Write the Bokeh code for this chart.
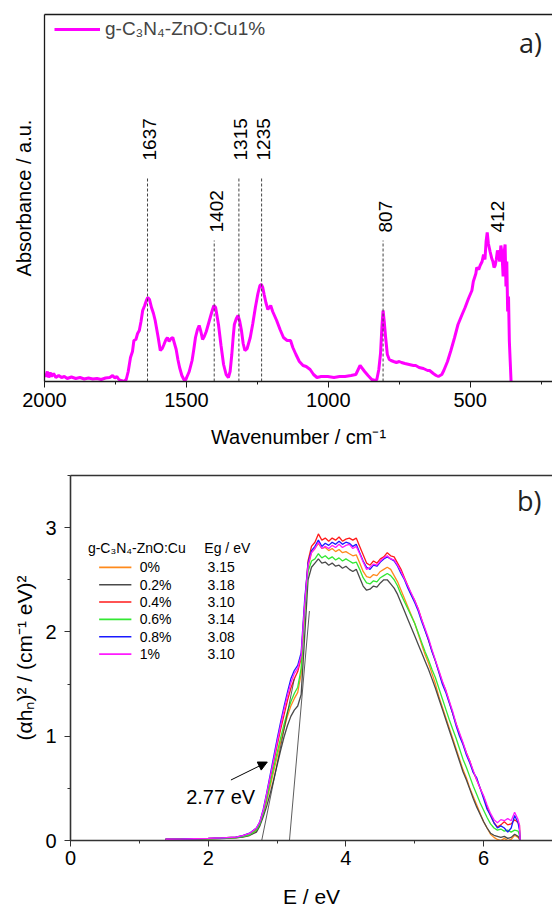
import numpy as np
from bokeh.plotting import figure
from bokeh.models import (Range1d, SingleIntervalTicker, FixedTicker, LinearAxis,
                          Legend, LegendItem, Arrow, NormalHead)
from bokeh.core.properties import value
from bokeh.embed import file_html
from bokeh.resources import INLINE

FONT = "Liberation Sans"

# ---------------- panel a) FTIR data ----------------
ftir_wn = [2000, 1995, 1990, 1985, 1980, 1975, 1968, 1960, 1950, 1940, 1930, 1920, 1905, 1890,
           1875, 1860, 1845, 1830, 1815, 1800, 1785, 1770, 1760, 1752, 1745, 1738, 1730, 1720,
           1712, 1705, 1697, 1690, 1685, 1678, 1672, 1666, 1660, 1654, 1647, 1641, 1636, 1630,
           1623, 1616, 1610, 1600, 1592, 1585, 1579, 1572, 1567, 1561, 1554, 1548, 1542, 1536,
           1530, 1524, 1516, 1509, 1504, 1499, 1490, 1480, 1474, 1468, 1461, 1455, 1449, 1443,
           1437, 1430, 1424, 1416, 1408, 1403, 1397, 1387, 1378, 1369, 1360, 1352, 1346, 1340,
           1335, 1331, 1324, 1318, 1312, 1306, 1300, 1294, 1286, 1275, 1266, 1257, 1248, 1241,
           1236, 1231, 1226, 1220, 1213, 1208, 1203, 1196, 1182, 1170, 1158, 1145, 1133, 1125,
           1114, 1102, 1089, 1078, 1064, 1052, 1040, 1025, 1002, 980, 960, 941, 920, 903, 893,
           888, 880, 872, 860, 847, 835, 829, 822, 816, 811, 807, 803, 798, 792, 785, 779, 770,
           760, 750, 742, 730, 715, 700, 692, 680, 665, 650, 643, 630, 620, 612, 600, 593, 580,
           568, 555, 543, 530, 518, 506, 494, 489, 480, 477, 470, 465, 458, 453, 448, 444, 440,
           436, 430, 424, 420, 416, 412, 408, 404, 400, 396, 392, 388, 384, 380, 377, 374, 371,
           368, 365, 362, 359, 356]
ftir_abs = [0.08, 0.05, 0.10, 0.04, 0.09, 0.05, 0.08, 0.04, 0.06, 0.04, 0.05, 0.03, 0.045, 0.03,
            0.04, 0.025, 0.035, 0.025, 0.03, 0.02, 0.035, 0.04, 0.06, 0.035, 0.05, 0.02, 0.01, 0.0,
            0.02, 0.10, 0.24, 0.30, 0.41, 0.42, 0.48, 0.51, 0.60, 0.71, 0.76, 0.81, 0.84, 0.82,
            0.74, 0.68, 0.61, 0.45, 0.31, 0.33, 0.37, 0.42, 0.44, 0.40, 0.43, 0.44, 0.38, 0.32,
            0.22, 0.14, 0.06, 0.02, 0.01, 0.04, 0.10, 0.21, 0.32, 0.44, 0.52, 0.56, 0.50, 0.42,
            0.45, 0.50, 0.56, 0.64, 0.72, 0.76, 0.74, 0.57, 0.36, 0.17, 0.07, 0.04, 0.10, 0.27,
            0.45, 0.57, 0.63, 0.66, 0.60, 0.51, 0.38, 0.31, 0.33, 0.44, 0.58, 0.74, 0.88, 0.96,
            0.97, 0.94, 0.87, 0.79, 0.72, 0.74, 0.76, 0.70, 0.61, 0.52, 0.44, 0.41, 0.41, 0.34,
            0.27, 0.20, 0.16, 0.15, 0.12, 0.07, 0.04, 0.05, 0.05, 0.04, 0.05, 0.05, 0.06, 0.07, 0.13,
            0.16, 0.13, 0.10, 0.06, 0.02, 0.01, 0.02, 0.12, 0.28, 0.55, 0.71, 0.60, 0.44, 0.27, 0.22, 0.21, 0.20,
            0.19, 0.20, 0.19, 0.18, 0.17, 0.16, 0.16, 0.14, 0.13, 0.11, 0.11, 0.08, 0.06, 0.05, 0.07, 0.11, 0.20,
            0.31, 0.44, 0.57, 0.66, 0.74, 0.83, 0.91, 1.00, 1.08, 1.14, 1.12, 1.16, 1.20, 1.27, 1.22, 1.40, 1.49,
            1.38, 1.30, 1.23, 1.20, 1.14, 1.16, 1.22, 1.31, 1.27, 1.20, 1.36, 1.28, 1.05, 1.30, 1.37, 0.95, 1.20,
            0.70, 0.85, 0.40, 0.20, 0.0]

peak_wn = [1637, 1402, 1315, 1235, 807, 412]
peak_text = ["1637", "1402", "1315", "1235", "807", "412"]
peak_level = ["high", "low", "high", "high", "low", "low"]
peak_has_line = [True, True, True, True, True, False]

# ---------------- panel b) Tauc data ----------------
energy = [1.38, 1.6, 1.8, 2.0, 2.2, 2.4, 2.5, 2.6,
          2.7, 2.75, 2.8, 2.85, 2.9, 2.95, 3.0, 3.05, 3.1, 3.15, 3.2, 3.25, 3.3, 3.35, 3.4, 3.45,
          3.5, 3.55, 3.6, 3.65, 3.7, 3.75, 3.8, 3.85, 3.9, 3.95, 4.0, 4.05, 4.1, 4.15, 4.2, 4.25,
          4.3, 4.35, 4.4, 4.45, 4.5, 4.55, 4.6, 4.65, 4.7, 4.75, 4.8, 4.85, 4.9, 4.95, 5.0, 5.05,
          5.1, 5.15, 5.2, 5.25, 5.3, 5.35, 5.4, 5.45, 5.5, 5.55, 5.6, 5.65, 5.7, 5.75, 5.8, 5.85,
          5.9, 5.95, 6.0, 6.05, 6.1, 6.15, 6.2, 6.25, 6.3, 6.35, 6.4, 6.45, 6.5, 6.52, 6.53]

cu_0 = [0.01, 0.012, 0.014, 0.016, 0.02, 0.026, 0.035, 0.05,
        0.09, 0.15, 0.25, 0.38, 0.52, 0.66, 0.8, 0.94, 1.07, 1.19,
        1.29, 1.36, 1.42, 1.6, 2.2, 2.62, 2.76, 2.8, 2.85, 2.8,
        2.81, 2.78, 2.8, 2.77, 2.79, 2.76, 2.77, 2.75, 2.73, 2.74,
        2.66, 2.58, 2.53, 2.52, 2.55, 2.54, 2.58, 2.6, 2.62, 2.6,
        2.54, 2.48, 2.4, 2.32, 2.24, 2.16, 2.08, 1.98, 1.88, 1.78,
        1.7, 1.6, 1.5, 1.38, 1.28, 1.18, 1.08, 0.98, 0.88, 0.78,
        0.68, 0.6, 0.5, 0.42, 0.34, 0.26, 0.18, 0.12, 0.06, 0.03,
        0.01, 0.0, 0.02, 0.0, 0.01, 0.05, 0.03, 0.01, 0.0]
cu_02 = [0.01, 0.011, 0.013, 0.015, 0.019, 0.025, 0.033, 0.048,
         0.08, 0.14, 0.23, 0.33, 0.45, 0.58, 0.72, 0.86, 0.99, 1.1,
         1.19, 1.25, 1.29, 1.4, 1.95, 2.5, 2.62, 2.66, 2.7, 2.66,
         2.67, 2.64, 2.66, 2.63, 2.64, 2.61, 2.63, 2.6, 2.58, 2.6,
         2.52, 2.44, 2.4, 2.41, 2.44, 2.43, 2.47, 2.5, 2.5, 2.46,
         2.42, 2.36, 2.28, 2.2, 2.12, 2.04, 1.96, 1.88, 1.8, 1.72,
         1.64, 1.55, 1.46, 1.36, 1.26, 1.16, 1.06, 0.96, 0.86, 0.76,
         0.66, 0.58, 0.49, 0.4, 0.32, 0.25, 0.18, 0.12, 0.07, 0.05,
         0.04, 0.03, 0.04, 0.02, 0.03, 0.06, 0.04, 0.02, 0.0]
cu_04 = [0.012, 0.014, 0.017, 0.02, 0.024, 0.032, 0.045, 0.065,
         0.11, 0.17, 0.28, 0.43, 0.59, 0.75, 0.91, 1.06, 1.2, 1.34,
         1.46, 1.55, 1.62, 1.75, 2.25, 2.68, 2.82, 2.86, 2.94, 2.88,
         2.9, 2.87, 2.9, 2.88, 2.91, 2.87, 2.89, 2.9, 2.88, 2.9,
         2.82, 2.74, 2.66, 2.64, 2.68, 2.66, 2.7, 2.72, 2.76, 2.73,
         2.72, 2.66, 2.6, 2.52, 2.44, 2.36, 2.3, 2.22, 2.12, 2.02,
         1.92, 1.82, 1.72, 1.62, 1.52, 1.44, 1.33, 1.22, 1.12, 1.02,
         0.93, 0.84, 0.76, 0.66, 0.58, 0.5, 0.42, 0.32, 0.24, 0.17,
         0.13, 0.15, 0.18, 0.15, 0.16, 0.2, 0.17, 0.15, 0.0]
cu_06 = [0.01, 0.012, 0.015, 0.017, 0.021, 0.028, 0.038, 0.055,
         0.1, 0.16, 0.26, 0.4, 0.55, 0.7, 0.84, 0.98, 1.11, 1.23,
         1.33, 1.41, 1.47, 1.65, 2.2, 2.58, 2.68, 2.7, 2.75, 2.71,
         2.73, 2.7, 2.72, 2.69, 2.71, 2.68, 2.7, 2.68, 2.66, 2.67,
         2.6, 2.52, 2.47, 2.46, 2.49, 2.48, 2.52, 2.54, 2.56, 2.54,
         2.5, 2.44, 2.36, 2.29, 2.22, 2.15, 2.08, 1.99, 1.9, 1.81,
         1.73, 1.64, 1.56, 1.46, 1.36, 1.26, 1.16, 1.07, 0.98, 0.88,
         0.78, 0.7, 0.61, 0.52, 0.44, 0.36, 0.29, 0.22, 0.16, 0.12,
         0.1, 0.11, 0.09, 0.1, 0.08, 0.1, 0.09, 0.05, 0.0]
cu_08 = [0.012, 0.014, 0.017, 0.02, 0.025, 0.033, 0.046, 0.07,
         0.12, 0.18, 0.3, 0.46, 0.63, 0.8, 0.97, 1.13, 1.28, 1.42,
         1.55, 1.63, 1.68, 1.8, 2.3, 2.66, 2.78, 2.82, 2.88, 2.82,
         2.85, 2.83, 2.86, 2.84, 2.87, 2.84, 2.86, 2.85, 2.82, 2.84,
         2.76, 2.68, 2.62, 2.6, 2.64, 2.63, 2.67, 2.7, 2.72, 2.7,
         2.68, 2.63, 2.56, 2.5, 2.42, 2.35, 2.28, 2.2, 2.1, 2.01,
         1.92, 1.81, 1.72, 1.61, 1.5, 1.42, 1.32, 1.22, 1.1, 1.0,
         0.92, 0.82, 0.74, 0.65, 0.6, 0.5, 0.4, 0.3, 0.24, 0.17,
         0.12, 0.14, 0.12, 0.08, 0.12, 0.24, 0.17, 0.1, 0.0]
cu_1 = [0.012, 0.014, 0.017, 0.02, 0.025, 0.033, 0.046, 0.068,
        0.12, 0.18, 0.29, 0.45, 0.61, 0.77, 0.94, 1.1, 1.25, 1.39,
        1.51, 1.6, 1.65, 1.77, 2.26, 2.64, 2.76, 2.8, 2.86, 2.8,
        2.82, 2.8, 2.83, 2.81, 2.84, 2.81, 2.83, 2.84, 2.8, 2.82,
        2.75, 2.67, 2.6, 2.62, 2.65, 2.64, 2.68, 2.71, 2.73, 2.7,
        2.69, 2.64, 2.58, 2.51, 2.44, 2.37, 2.3, 2.22, 2.12, 2.03,
        1.94, 1.83, 1.73, 1.63, 1.53, 1.44, 1.34, 1.24, 1.12, 1.03,
        0.94, 0.84, 0.76, 0.67, 0.58, 0.5, 0.43, 0.34, 0.26, 0.2,
        0.17, 0.2, 0.19, 0.21, 0.19, 0.27, 0.2, 0.15, 0.0]

series_labels = ["0%", "0.2%", "0.4%", "0.6%", "0.8%", "1%"]
eg_values = ["3.15", "3.18", "3.10", "3.14", "3.08", "3.10"]
series_values = [cu_0, cu_02, cu_04, cu_06, cu_08, cu_1]
series_colors = ["#FF8A1C", "#4A4A4A", "#FF1A1A", "#33E833", "#1A1AFF", "#FF1AFF"]

tangent_x = [[2.777, 3.25], [3.18, 3.47]]
tangent_y = [[0.0, 1.55], [0.0, 2.20]]

# ---------------- panel a) figure ----------------
AX = "#1a1a1a"
p1 = figure(width=552, height=453, output_backend="svg", toolbar_location=None,
            x_range=Range1d(2000, 210), y_range=Range1d(0, 3.67),
            min_border_left=44, min_border_right=0, min_border_top=14, min_border_bottom=72)
p1.outline_line_color = None
p1.grid.visible = False

p1.xaxis.ticker = SingleIntervalTicker(interval=500, num_minor_ticks=2)
p1.xaxis.axis_label = "Wavenumber / cm\u207b\u00b9"
p1.yaxis.ticker = FixedTicker(ticks=[])
p1.yaxis.axis_label = "Absorbance / a.u."
p1.yaxis.major_tick_out = 0
p1.yaxis.minor_tick_out = 0
p1.yaxis.major_label_standoff = 0
p1.yaxis.axis_label_standoff = 10
p1.xaxis.major_tick_out = 6
p1.xaxis.major_tick_in = 0
p1.xaxis.minor_tick_out = 3
p1.xaxis.minor_tick_in = 0
p1.xaxis.major_label_standoff = 5
p1.xaxis.axis_label_standoff = 16
for ax in p1.axis:
    ax.axis_line_color = AX
    ax.axis_line_width = 1.3
    ax.major_tick_line_color = AX
    ax.minor_tick_line_color = AX
    ax.major_label_text_font = FONT
    ax.major_label_text_font_size = "20px"
    ax.major_label_text_color = "black"
    ax.axis_label_text_font = FONT
    ax.axis_label_text_font_size = "20px"
    ax.axis_label_text_font_style = "normal"
    ax.axis_label_text_color = "black"

top1 = LinearAxis(ticker=FixedTicker(ticks=[]), major_tick_out=0, major_tick_in=0,
                  minor_tick_out=0, major_label_standoff=0, axis_line_color=AX, axis_line_width=1.3)
p1.add_layout(top1, "above")

r_ftir = p1.line(ftir_wn, ftir_abs, line_color="#FF00FF", line_width=3)

level_text_y = {"high": 2.21, "low": 1.49}
level_line_y = {"high": 2.04, "low": 1.41}
lx = [w for w, h in zip(peak_wn, peak_has_line) if h]
ly = [level_line_y[l] for l, h in zip(peak_level, peak_has_line) if h]
p1.segment(x0=lx, x1=lx, y0=[0] * len(lx), y1=ly, line_color="#444444",
           line_width=1, line_dash="3 2")
p1.text(x=peak_wn, y=[level_text_y[l] for l in peak_level], text=peak_text,
        angle=np.pi / 2, text_align="left", text_baseline="middle", x_offset=2,
        text_font=value(FONT), text_font_size="19px", text_color="black")
p1.text(x=[247], y=[3.39], text=["a)"], text_align="right", text_baseline="middle",
        text_font=value("Open Sans"), text_font_size="27px", text_color="#222222")

leg1 = Legend(items=[LegendItem(label="g-C\u2083N\u2084-ZnO:Cu1%", renderers=[r_ftir])],
              location=(10, 341), padding=0, margin=0, glyph_width=46, glyph_height=20,
              label_height=20, label_standoff=5, label_text_font=FONT,
              label_text_font_size="19px", border_line_color=None, background_fill_alpha=0)
p1.add_layout(leg1)

# ---------------- panel b) figure ----------------
p2 = figure(width=552, height=457, output_backend="svg", toolbar_location=None,
            x_range=Range1d(0, 7.0), y_range=Range1d(0, 3.5),
            min_border_left=70, min_border_right=0, min_border_top=22, min_border_bottom=68)
p2.outline_line_color = None
p2.grid.visible = False
p2.xaxis.ticker = SingleIntervalTicker(interval=2, num_minor_ticks=2)
p2.yaxis.ticker = SingleIntervalTicker(interval=1, num_minor_ticks=2)
p2.xaxis.axis_label = "E / eV"
p2.yaxis.axis_label = "(\u03b1h\u2099)\u00b2 / (cm\u207b\u00b9 eV)\u00b2"
for ax in p2.axis:
    ax.axis_line_color = "#333333"
    ax.axis_line_width = 1.6
    ax.major_tick_line_color = "#333333"
    ax.minor_tick_line_color = "#333333"
    ax.major_tick_out = 6
    ax.major_tick_in = 0
    ax.minor_tick_out = 3
    ax.minor_tick_in = 0
    ax.major_label_text_font = FONT
    ax.major_label_text_font_size = "20px"
    ax.major_label_text_color = "black"
    ax.axis_label_text_font = FONT
    ax.axis_label_text_font_size = "21px"
    ax.axis_label_text_font_style = "normal"
    ax.axis_label_text_color = "black"
p2.xaxis.major_label_standoff = 4
p2.xaxis.axis_label_standoff = 17
p2.yaxis.major_label_standoff = 8
p2.yaxis.axis_label_standoff = 6

top2 = LinearAxis(ticker=FixedTicker(ticks=[]), major_tick_out=0, major_tick_in=0,
                  minor_tick_out=0, major_label_standoff=0, axis_line_color="#333333",
                  axis_line_width=1.6)
p2.add_layout(top2, "above")

for vals, col in zip(series_values, series_colors):
    p2.line(energy, vals, line_color=col, line_width=1.3)

p2.multi_line(tangent_x, tangent_y, line_color="#333333", line_width=0.8)
p2.add_layout(Arrow(end=NormalHead(size=9, fill_color="black", line_color="black"),
                    x_start=2.33, y_start=0.58, x_end=2.858, y_end=0.752,
                    line_color="black", line_width=1))
p2.text(x=[1.68], y=[0.42], text=["2.77 eV"], text_align="left", text_baseline="middle",
        text_font=value(FONT), text_font_size="20px", text_color="black")
p2.text(x=[6.84], y=[3.26], text=["b)"], text_align="right", text_baseline="middle",
        text_font=value("Open Sans"), text_font_size="27px", text_color="#222222")

# custom two-column legend
row0, drow = 2.619, 0.1663
rows_y = [row0 - i * drow for i in range(len(series_labels))]
p2.segment(x0=[0.416] * 6, x1=[0.884] * 6, y0=rows_y, y1=rows_y,
           line_color=series_colors, line_width=1.6)
p2.text(x=[1.004] * 6, y=rows_y, text=series_labels, text_align="left",
        text_baseline="middle", text_font=value(FONT), text_font_size="14px", text_color="black")
p2.text(x=[1.991] * 6, y=rows_y, text=eg_values, text_align="left",
        text_baseline="middle", text_font=value(FONT), text_font_size="14px", text_color="black")
p2.text(x=[0.253, 1.944], y=[2.802, 2.802], text=["g-C\u2083N\u2084-ZnO:Cu", "Eg / eV"],
        text_align="left", text_baseline="middle", text_font=value(FONT),
        text_font_size="14px", text_color="black")

open("out.html", "w").write(file_html([p1, p2], INLINE))
